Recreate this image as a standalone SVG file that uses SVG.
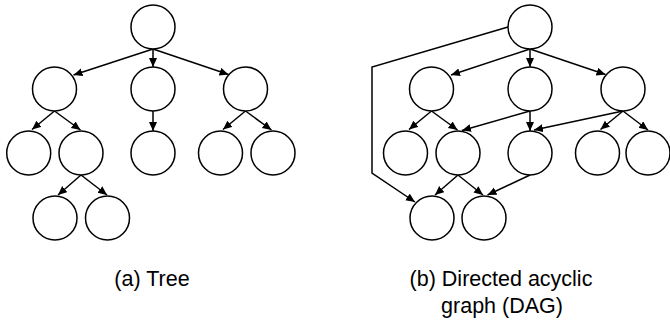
<svg xmlns="http://www.w3.org/2000/svg" width="670" height="322" viewBox="0 0 670 322">
<style>
.n{fill:#fff;stroke:#000;stroke-width:1.5}
.e{fill:none;stroke:#000;stroke-width:1.5;marker-end:url(#ah)}
.t{font-family:"Liberation Sans",Arial,sans-serif;font-size:21.5px;fill:#000;text-anchor:middle}
</style>
<defs>
<marker id="ah" markerUnits="userSpaceOnUse" markerWidth="10" markerHeight="9" refX="9" refY="4" orient="auto">
<path d="M0,0 L9,4 L0,8 z" fill="#000"/>
</marker>
</defs>
<rect width="670" height="322" fill="#fff"/>
<g id="connectors">
<line class="e" x1="153" y1="49" x2="73.5" y2="75"/>
<line class="e" x1="153" y1="49" x2="153" y2="67"/>
<line class="e" x1="153" y1="49" x2="228.5" y2="74.5"/>
<line class="e" x1="54.5" y1="111" x2="32" y2="129.5"/>
<line class="e" x1="54.5" y1="111" x2="80.5" y2="130"/>
<line class="e" x1="153" y1="111" x2="153" y2="131"/>
<line class="e" x1="245.5" y1="111" x2="223" y2="129.5"/>
<line class="e" x1="245.5" y1="111" x2="271.5" y2="130"/>
<line class="e" x1="81" y1="175" x2="58" y2="195"/>
<line class="e" x1="81" y1="175" x2="107" y2="195"/>
<line class="e" x1="530" y1="49" x2="451" y2="75"/>
<line class="e" x1="530" y1="49" x2="530" y2="67"/>
<line class="e" x1="530" y1="49" x2="605.5" y2="74.5"/>
<polyline class="e" points="508,27 372,67 372,173 415,202"/>
<line class="e" x1="431.5" y1="111" x2="409" y2="129.5"/>
<line class="e" x1="431.5" y1="111" x2="457.5" y2="130"/>
<line class="e" x1="530" y1="111" x2="462" y2="130.5"/>
<line class="e" x1="530" y1="111" x2="530" y2="131"/>
<line class="e" x1="623" y1="111" x2="534" y2="130"/>
<line class="e" x1="623" y1="111" x2="600.5" y2="129.5"/>
<line class="e" x1="623" y1="111" x2="648" y2="130"/>
<line class="e" x1="458" y1="175" x2="435" y2="195"/>
<line class="e" x1="458" y1="175" x2="483" y2="195"/>
<line class="e" x1="530" y1="175" x2="487.5" y2="195"/>
</g>
<g id="tree-root"><circle class="n" cx="153" cy="27" r="22"/></g>
<g id="tree-a"><circle class="n" cx="54.5" cy="89" r="22"/></g>
<g id="tree-b"><circle class="n" cx="153" cy="89" r="22"/></g>
<g id="tree-c"><circle class="n" cx="245.5" cy="89" r="22"/></g>
<g id="tree-a1"><circle class="n" cx="28.7" cy="153" r="22"/></g>
<g id="tree-a2"><circle class="n" cx="81" cy="153" r="22"/></g>
<g id="tree-b1"><circle class="n" cx="153" cy="153" r="22"/></g>
<g id="tree-c1"><circle class="n" cx="220.5" cy="153" r="22"/></g>
<g id="tree-c2"><circle class="n" cx="273" cy="153" r="22"/></g>
<g id="tree-a2a"><circle class="n" cx="55" cy="218" r="22"/></g>
<g id="tree-a2b"><circle class="n" cx="107.5" cy="218" r="22"/></g>
<g id="dag-root"><circle class="n" cx="530" cy="27" r="22"/></g>
<g id="dag-a"><circle class="n" cx="431.5" cy="89" r="22"/></g>
<g id="dag-b"><circle class="n" cx="530" cy="89" r="22"/></g>
<g id="dag-c"><circle class="n" cx="623" cy="89" r="22"/></g>
<g id="dag-a1"><circle class="n" cx="405.5" cy="153" r="22"/></g>
<g id="dag-a2"><circle class="n" cx="458" cy="153" r="22"/></g>
<g id="dag-b1"><circle class="n" cx="530" cy="153" r="22"/></g>
<g id="dag-c1"><circle class="n" cx="597.5" cy="153" r="22"/></g>
<g id="dag-c2"><circle class="n" cx="648" cy="153" r="22"/></g>
<g id="dag-d1"><circle class="n" cx="432" cy="218" r="22"/></g>
<g id="dag-d2"><circle class="n" cx="484" cy="218" r="22"/></g>
<g id="labels">
<text class="t" x="152" y="286">(a) Tree</text>
<text class="t" x="501" y="286">(b) Directed acyclic</text>
<text class="t" x="502" y="313">graph (DAG)</text>
</g>
</svg>
